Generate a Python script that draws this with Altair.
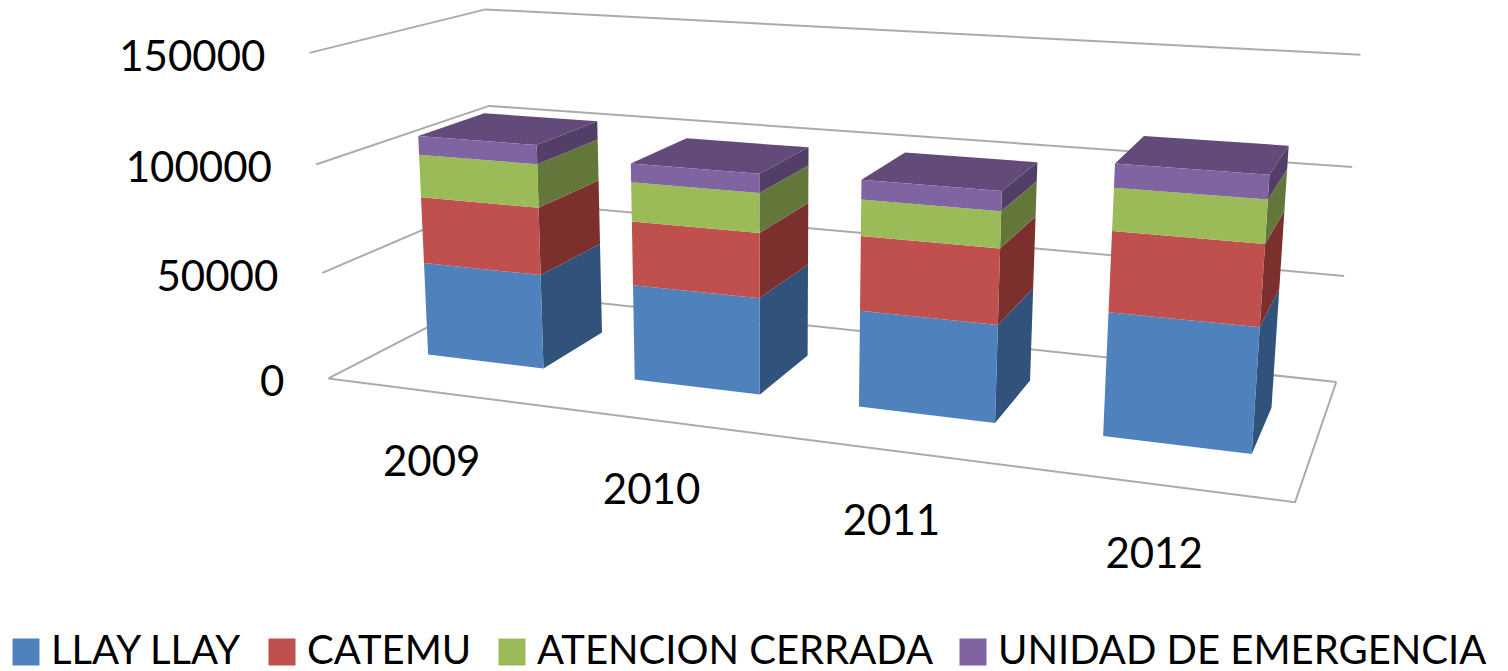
import altair as alt
import numpy as np
import pandas as pd

YEARS = ["2009", "2010", "2011", "2012"]
SERIES = ["LLAY LLAY", "CATEMU", "ATENCION CERRADA", "UNIDAD DE EMERGENCIA"]
LLAY = [45000, 44700, 43700, 54100]
CATEMU = [31700, 29600, 33300, 34500]
ATENCION = [20250, 17900, 16050, 18150]
UNIDAD = [8850, 8550, 8650, 10050]
TICKS = [0, 50000, 100000, 150000]
FRONT = ["#4F81BD", "#C0504D", "#9BBB59", "#8064A2"]
SIDE = ["#31527A", "#7B302D", "#64773A", "#533E68"]
TOP_COLOR = "#624A7B"
GRID = "#ABABAB"
FONT = "Lato"
VMAX = 150000

# Oblique view of the chart box: box corner (x, depth, value/VMAX) -> picture position
BOX = [((0, 0, 0), (331, 378)), ((1, 0, 0), (1295, 503)), ((1, 1, 0), (1337, 381)), ((0, 1, 0), (493, 293)),
       ((0, 0, 1), (307, 53)), ((0, 1, 1), (488, 9)), ((1, 1, 1), (1360, 55)),
       ((0, 0, 2/3), (315, 165)), ((0, 1, 2/3), (490, 106)), ((1, 1, 2/3), (1352, 167)),
       ((0, 0, 1/3), (323, 272)), ((0, 1, 1/3), (492, 200)), ((1, 1, 1/3), (1344, 276))]
A, b = [], []
for (x, d, v), (u, w) in BOX:
    A.append([x, d, v, 1, 0, 0, 0, 0, -u*x, -u*d, -u*v]); b.append(u)
    A.append([0, 0, 0, 0, x, d, v, 1, -w*x, -w*d, -w*v]); b.append(w)
P = np.append(np.linalg.lstsq(np.array(A, float), np.array(b, float), rcond=None)[0], 1).reshape(3, 4)


def proj(x, d, value):
    q = P @ np.array([x, d, value / VMAX, 1.0])
    return float(q[0] / q[2]), float(q[1] / q[2])


BAR_W = 0.142
D0, D1 = 0.305, 0.70
stacks = [LLAY, CATEMU, ATENCION, UNIDAD]
faces = {"front": [], "side": [], "top": []}
for i, year in enumerate(YEARS):
    cx = (i + 0.5) / 4 + 0.001
    x0, x1 = cx - BAR_W / 2, cx + BAR_W / 2
    base = 0
    for s, name in enumerate(SERIES):
        top = base + stacks[s][i]
        quad = [(x0, D0, base), (x1, D0, base), (x1, D0, top), (x0, D0, top)]
        for k, c in enumerate(quad):
            px, py = proj(*c)
            faces["front"].append(dict(poly=f"{year}-{s}", k=k, px=px, py=py, series=name))
        quad = [(x1, D0, base), (x1, D1, base), (x1, D1, top), (x1, D0, top)]
        for k, c in enumerate(quad):
            px, py = proj(*c)
            faces["side"].append(dict(poly=f"s{year}-{s}", k=k, px=px, py=py, fill=SIDE[s]))
        base = top
    quad = [(x0, D0, base), (x1, D0, base), (x1, D1, base), (x0, D1, base)]
    for k, c in enumerate(quad):
        px, py = proj(*c)
        faces["top"].append(dict(poly=f"t{year}", k=k, px=px, py=py, fill=TOP_COLOR))

grid_rows = []
for t in TICKS:
    for k, c in enumerate([(0, 0, t), (0, 1, t), (1, 1, t)]):
        px, py = proj(*c)
        grid_rows.append(dict(line=f"g{t}", k=k, px=px, py=py))
for k, c in enumerate([(0, 0, 0), (1, 0, 0), (1, 1, 0)]):
    px, py = proj(*c)
    grid_rows.append(dict(line="floor", k=k, px=px, py=py))

tick_rows = []
for t in TICKS:
    px, py = proj(0, 0, t)
    tick_rows.append(dict(px=px - 44, py=py + 5, label=str(t)))
cat_rows = []
for i, year in enumerate(YEARS):
    px, py = proj((i + 0.5) / 4, 0, 0)
    cat_rows.append(dict(px=px, py=py + 71, label=year))

X = alt.X("px:Q", axis=None, scale=alt.Scale(domain=[8, 1500], range=[0, 1492], nice=False, zero=False))
Y = alt.Y("py:Q", axis=None, scale=alt.Scale(domain=[8, 671], range=[0, 663], nice=False, zero=False))

grid = alt.Chart(pd.DataFrame(grid_rows)).mark_line(color=GRID, strokeWidth=2).encode(
    x=X, y=Y, detail="line:N", order="k:Q")

solid = alt.Chart(pd.DataFrame(faces["side"] + faces["top"])).mark_line(
    filled=True, interpolate="linear-closed").encode(
    x=X, y=Y, detail="poly:N", order="k:Q", color=alt.Color("fill:N", scale=None, legend=None))

front = alt.Chart(pd.DataFrame(faces["front"])).mark_line(
    filled=True, interpolate="linear-closed").encode(
    x=X, y=Y, detail="poly:N", order="k:Q",
    color=alt.Color("series:N", sort=SERIES, title=None,
                    scale=alt.Scale(domain=SERIES, range=FRONT),
                    legend=alt.Legend(orient="none", legendX=-2, legendY=624, direction="horizontal", columns=4,
                                      symbolType="square", symbolSize=729, symbolStrokeWidth=0,
                                      symbolOpacity=1, labelFont=FONT, labelFontSize=40, labelColor="#000000",
                                      labelOffset=5, columnPadding=20, labelLimit=700, padding=0)))

ticks = alt.Chart(pd.DataFrame(tick_rows)).mark_text(
    align="right", baseline="middle", font=FONT, fontSize=42, color="#000000").encode(x=X, y=Y, text="label:N")
cats = alt.Chart(pd.DataFrame(cat_rows)).mark_text(
    align="center", baseline="middle", font=FONT, fontSize=42, color="#000000").encode(x=X, y=Y, text="label:N")

chart = alt.layer(grid, solid, front, ticks, cats).resolve_scale(color="independent").properties(
    width=1492, height=663, padding=0, background="white", autosize=alt.AutoSizeParams(type="none")
).configure_view(stroke=None)

chart.save("out.html", embed_options={"renderer": "svg", "actions": False})
